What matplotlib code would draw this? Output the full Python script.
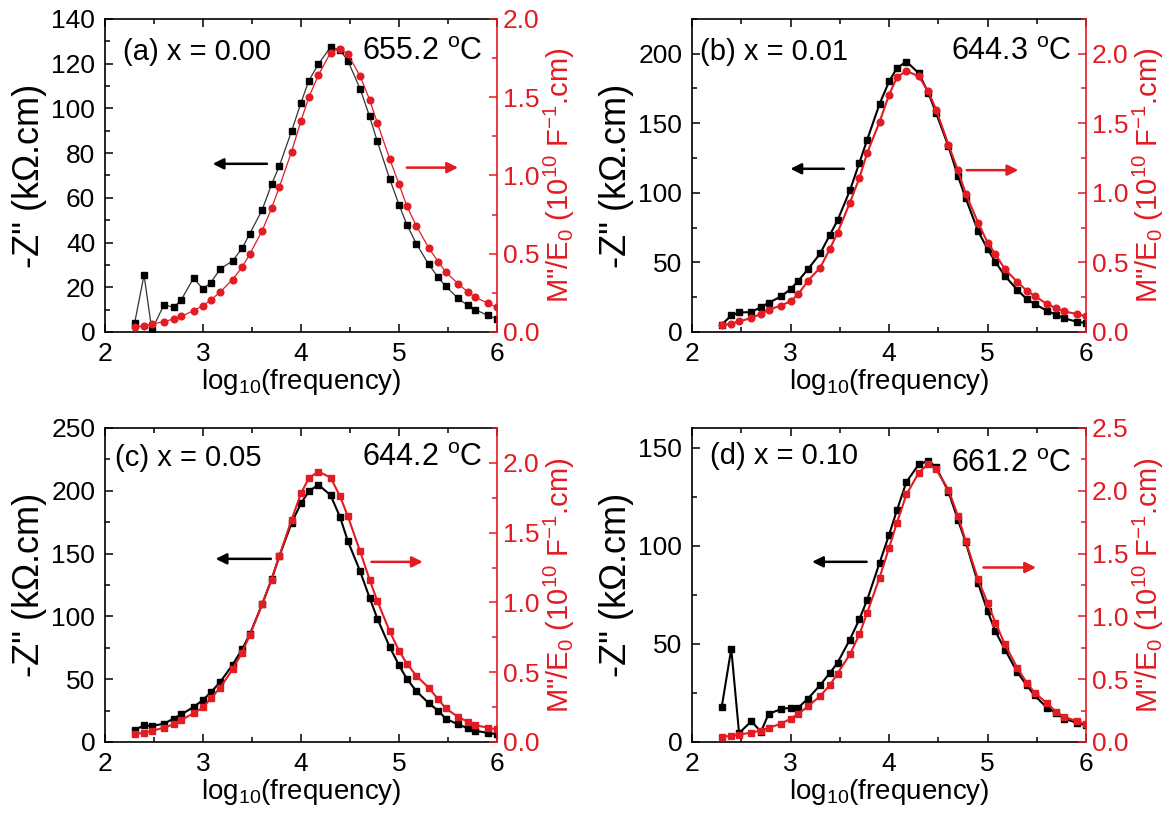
import numpy as np
import matplotlib
matplotlib.use("Agg")
import matplotlib.pyplot as plt
from matplotlib.ticker import MultipleLocator

plt.rcParams['font.family'] = ['Liberation Sans', 'DejaVu Sans']
plt.rcParams['mathtext.fontset'] = 'custom'
plt.rcParams['mathtext.rm'] = 'Liberation Sans'
plt.rcParams['mathtext.it'] = 'Liberation Sans:italic'

RED = '#e31b23'

# measurement frequencies (Hz), same for all samples
freq = [200, 250, 300, 400, 500, 600, 800,
        1e3, 1.2e3, 1.5e3, 2e3, 2.5e3, 3e3, 4e3, 5e3, 6e3, 8e3,
        1e4, 1.2e4, 1.5e4, 2e4, 2.5e4, 3e4, 4e4, 5e4, 6e4, 8e4,
        1e5, 1.2e5, 1.5e5, 2e5, 2.5e5, 3e5, 4e5, 5e5, 6e5, 8e5, 1e6]

# -Z'' (kOhm.cm)
z_a = [3.8, 25.5, 0.9, 12.2, 11.0, 14.4, 24.1, 19.2, 22.1, 28.2, 31.8, 37.4, 44.0,
       54.5, 66.0, 74.2, 89.8, 102.6, 112.4, 119.7, 127.5, 126.0, 121.3, 108.8, 96.4,
       85.2, 68.6, 56.8, 48.0, 39.5, 30.3, 24.5, 20.4, 15.0, 11.9, 10.0, 7.4, 5.9]
z_b = [5.2, 11.9, 14.0, 14.3, 17.9, 21.0, 25.5, 30.8, 36.8, 45.1, 56.4, 69.7, 80.2,
       101.7, 121.6, 138.3, 163.8, 180.1, 189.6, 194.4, 186.0, 172.0, 157.4, 133.5, 112.0,
       96.0, 72.6, 59.5, 50.4, 40.3, 30.3, 23.6, 20.1, 15.3, 12.2, 9.8, 7.4, 6.4]
z_c = [9.5, 13.3, 12.7, 14.6, 18.6, 22.0, 27.8, 33.5, 39.5, 47.9, 61.4, 73.8, 85.7,
       109.5, 129.4, 147.9, 174.3, 190.2, 199.5, 204.8, 196.5, 179.0, 160.0, 136.0, 114.8,
       98.3, 75.8, 61.0, 50.3, 40.5, 31.0, 25.0, 18.5, 14.0, 11.0, 9.0, 7.2, 6.2]
z_d = [17.8, 47.5, 4.5, 10.6, 5.2, 14.4, 16.7, 17.5, 17.5, 22.1, 29.0, 35.1, 40.4,
       52.2, 62.6, 72.5, 91.2, 105.6, 118.0, 132.5, 141.4, 143.3, 140.0, 127.6, 113.2,
       101.7, 81.0, 66.6, 56.4, 47.1, 35.6, 28.8, 23.7, 17.5, 14.6, 11.9, 9.8, 8.5]

# M''/E0 (1e10 F^-1.cm)
m_a = [0.030, 0.040, 0.050, 0.066, 0.083, 0.100, 0.136, 0.168, 0.204, 0.256, 0.335,
       0.414, 0.498, 0.645, 0.790, 0.926, 1.152, 1.350, 1.500, 1.640, 1.785, 1.810,
       1.775, 1.635, 1.485, 1.335, 1.108, 0.943, 0.805, 0.677, 0.539, 0.450, 0.382,
       0.308, 0.257, 0.221, 0.185, 0.157]
m_b = [0.048, 0.060, 0.076, 0.100, 0.130, 0.160, 0.190, 0.220, 0.272, 0.368, 0.463,
       0.595, 0.714, 0.929, 1.108, 1.287, 1.509, 1.705, 1.830, 1.877, 1.837, 1.729,
       1.598, 1.347, 1.161, 0.994, 0.786, 0.642, 0.559, 0.451, 0.360, 0.296, 0.260,
       0.200, 0.170, 0.148, 0.129, 0.112]
m_c = [0.055, 0.067, 0.079, 0.103, 0.126, 0.158, 0.205, 0.248, 0.312, 0.390, 0.521,
       0.640, 0.767, 0.986, 1.164, 1.331, 1.593, 1.783, 1.890, 1.938, 1.895, 1.760,
       1.617, 1.367, 1.164, 1.010, 0.795, 0.652, 0.562, 0.474, 0.390, 0.307, 0.240,
       0.180, 0.145, 0.120, 0.103, 0.090]
m_d = [0.040, 0.050, 0.058, 0.075, 0.090, 0.112, 0.146, 0.185, 0.225, 0.283, 0.367,
       0.452, 0.545, 0.698, 0.857, 1.030, 1.308, 1.546, 1.745, 1.971, 2.143, 2.215,
       2.170, 2.010, 1.800, 1.600, 1.294, 1.109, 0.950, 0.777, 0.590, 0.472, 0.393,
       0.308, 0.239, 0.200, 0.167, 0.140]

labels = ['(a) x = 0.00', '(b) x = 0.01', '(c) x = 0.05', '(d) x = 0.10']
temps = ['655.2', '644.3', '644.2', '661.2']

logf = np.log10(freq)

# per panel settings
panels = [
    dict(z=z_a, m=m_a, rect=[0.0897, 0.5986, 0.3348, 0.3785], zlim=140, zmaj=20, zmin=10,
         mlim=2.0, rmark='o', lw=0.9, zcol='#333333', lab_x=0.045,
         barrow=(3.68, 3.07, 75.2), rarrow=(5.05, 5.63, 73.5), lab_y=0.895, t_y=0.895),
    dict(z=z_b, m=m_b, rect=[0.5910, 0.5986, 0.3365, 0.3785], zlim=225, zmaj=50, zmin=25,
         mlim=2.25, rmark='o', lw=1.5, zcol='black', lab_x=0.02,
         barrow=(3.57, 2.97, 117.3), rarrow=(4.76, 5.34, 116.3), lab_y=0.895, t_y=0.895),
    dict(z=z_c, m=m_c, rect=[0.0897, 0.1028, 0.3348, 0.3797], zlim=250, zmaj=50, zmin=25,
         mlim=2.25, rmark='s', lw=1.5, zcol='black', lab_x=0.025,
         barrow=(3.72, 3.10, 145.8), rarrow=(4.69, 5.27, 143.4), lab_y=0.905, t_y=0.905),
    dict(z=z_d, m=m_d, rect=[0.5910, 0.1028, 0.3365, 0.3797], zlim=160, zmaj=50, zmin=25,
         mlim=2.5, rmark='s', lw=1.5, zcol='black', lab_x=0.045,
         barrow=(3.80, 3.19, 91.8), rarrow=(4.93, 5.52, 88.9), lab_y=0.91, t_y=0.885),
]

fig = plt.figure(figsize=(11.71, 8.27), dpi=100)

for i, p in enumerate(panels):
    ax = fig.add_axes(p['rect'])
    ax2 = ax.twinx()

    ax.plot(logf, p['z'], color=p['zcol'], lw=p['lw'], marker='s', ms=4.8,
            mfc='black', mec='black')
    ax2.plot(logf, p['m'], color=RED, lw=p['lw'], marker=p['rmark'], ms=4.8,
             mfc=RED, mec=RED)

    ax.set_xlim(2, 6)
    ax.set_ylim(0, p['zlim'])
    ax2.set_ylim(0, p['mlim'])
    ax.xaxis.set_major_locator(MultipleLocator(1))
    ax.xaxis.set_minor_locator(MultipleLocator(0.5))
    ax.yaxis.set_major_locator(MultipleLocator(p['zmaj']))
    ax.yaxis.set_minor_locator(MultipleLocator(p['zmin']))
    ax2.yaxis.set_major_locator(MultipleLocator(0.5))
    ax2.yaxis.set_minor_locator(MultipleLocator(0.25))

    ax.tick_params(which='both', direction='in', top=True, right=False,
                   labelsize=19, width=1.1, pad=7)
    ax.tick_params(which='major', length=6)
    ax.tick_params(which='minor', length=3.5)
    ax2.tick_params(which='both', direction='in', colors=RED, labelsize=19,
                    width=1.1, pad=4)
    ax2.tick_params(which='major', length=6)
    ax2.tick_params(which='minor', length=3.5)
    ax2.yaxis.set_major_formatter(plt.FormatStrFormatter('%.1f'))

    for s in ['left', 'top', 'bottom']:
        ax.spines[s].set_linewidth(1.2)
    ax.spines['right'].set_visible(False)
    ax2.spines['right'].set_color(RED)
    ax2.spines['right'].set_linewidth(1.2)
    for s in ['left', 'top', 'bottom']:
        ax2.spines[s].set_visible(False)

    ax.set_xlabel(r'log$_{10}$(frequency)', fontsize=20, labelpad=1)
    ax.set_ylabel('-Z" (k\u03a9.cm)', fontsize=26, labelpad=3)
    ax2.set_ylabel(r'M"/E$_0$ (10$^{10}$ F$^{\mathrm{-}1}$.cm)', fontsize=21,
                   color=RED, labelpad=2)

    ax.text(p['lab_x'], p['lab_y'], labels[i], transform=ax.transAxes,
            fontsize=21, va='center', ha='left')
    ax.text(0.962, p['t_y'], temps[i] + r' $^{\rm o}$C', transform=ax.transAxes,
            fontsize=22, va='center', ha='right')

    bx0, bx1, by = p['barrow']
    ax.annotate('', xy=(bx1, by), xytext=(bx0, by),
                arrowprops=dict(arrowstyle='-|>', color='black', lw=1.8, mutation_scale=16))
    rx0, rx1, ry = p['rarrow']
    ax.annotate('', xy=(rx1, ry), xytext=(rx0, ry),
                arrowprops=dict(arrowstyle='-|>', color=RED, lw=1.8, mutation_scale=16))

fig.savefig('out.png', dpi=100)
